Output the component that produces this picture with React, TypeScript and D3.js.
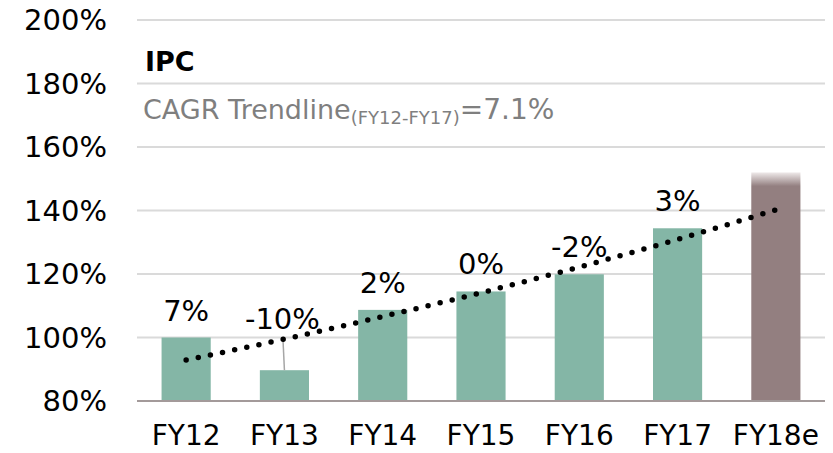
import React, { useEffect, useRef } from "react";
import * as d3 from "d3";

const categories = ["FY12", "FY13", "FY14", "FY15", "FY16", "FY17", "FY18e"];
const indexValues = [100, 89.7, 108.7, 114.5, 119.9, 134.4, 152];
const growthLabels = ["7%", "-10%", "2%", "0%", "-2%", "3%", ""];
const trendValues = [92.9, 99.5, 106.6, 114.1, 122.2, 130.9, 140.2];
const yTicks = [80, 100, 120, 140, 160, 180, 200];

function App() {
  const ref = useRef<SVGSVGElement | null>(null);
  const width = 833;
  const height = 453;
  const marginLeft = 137;
  const marginRight = 8;
  const marginTop = 20;
  const marginBottom = 52;

  useEffect(() => {
    const x = d3
      .scaleBand()
      .domain(categories)
      .range([marginLeft, width - marginRight])
      .paddingInner(0.5)
      .paddingOuter(0.25);

    const y = d3
      .scaleLinear()
      .domain([80, 200])
      .range([height - marginBottom, marginTop]);

    const svg = d3.select(ref.current);
    svg.selectAll("*").remove();
    svg
      .attr("width", width)
      .attr("height", height)
      .attr("viewBox", [0, 0, width, height])
      .attr("style", "position:absolute;left:0;top:0;font-family:'DejaVu Sans', sans-serif;");

    const defs = svg.append("defs");
    const grad = defs
      .append("linearGradient")
      .attr("id", "fadeTop")
      .attr("x1", 0)
      .attr("x2", 0)
      .attr("y1", 0)
      .attr("y2", 1);
    grad.append("stop").attr("offset", 0).attr("stop-color", "#efeaea");
    grad.append("stop").attr("offset", 0.06).attr("stop-color", "#937f80");
    grad.append("stop").attr("offset", 1).attr("stop-color", "#937f80");

    // gridlines
    svg
      .append("g")
      .selectAll("line")
      .data(yTicks.filter((t) => t > 80))
      .join("line")
      .attr("x1", marginLeft)
      .attr("x2", width - marginRight)
      .attr("y1", (d) => y(d))
      .attr("y2", (d) => y(d))
      .attr("stroke", "#dadada")
      .attr("stroke-width", 2);

    // y labels
    svg
      .append("g")
      .selectAll("text")
      .data(yTicks)
      .join("text")
      .attr("x", 107)
      .attr("y", (d) => y(d))
      .attr("dy", "0.36em")
      .attr("text-anchor", "end")
      .attr("font-size", 29)
      .attr("fill", "#000")
      .text((d) => `${d}%`);

    // bars
    svg
      .append("g")
      .selectAll("rect")
      .data(indexValues)
      .join("rect")
      .attr("x", (_, i) => x(categories[i]) as number)
      .attr("width", x.bandwidth())
      .attr("y", (d) => y(d))
      .attr("height", (d) => y(80) - y(d))
      .attr("fill", (_, i) => (i === categories.length - 1 ? "url(#fadeTop)" : "#84b6a6"));

    // axis line
    svg
      .append("line")
      .attr("x1", marginLeft)
      .attr("x2", width - marginRight)
      .attr("y1", y(80))
      .attr("y2", y(80))
      .attr("stroke", "#a39a9a")
      .attr("stroke-width", 2);

    // x labels
    svg
      .append("g")
      .selectAll("text")
      .data(categories)
      .join("text")
      .attr("x", (d) => (x(d) as number) + x.bandwidth() / 2)
      .attr("y", 445)
      .attr("text-anchor", "middle")
      .attr("font-size", 28)
      .attr("fill", "#000")
      .text((d) => d);

    // leader line for FY13 label
    const c13 = (x("FY13") as number) + x.bandwidth() / 2;
    svg
      .append("line")
      .attr("x1", c13 - 1.5)
      .attr("y1", y(100) + 1)
      .attr("x2", c13)
      .attr("y2", y(indexValues[1]))
      .attr("stroke", "#a6a6a6")
      .attr("stroke-width", 1.5);

    // trend line (dotted)
    const line = d3
      .line<number>()
      .x((_, i) => (x(categories[i]) as number) + x.bandwidth() / 2)
      .y((d) => y(d))
      .curve(d3.curveMonotoneX);
    svg
      .append("path")
      .attr("d", line(trendValues))
      .attr("fill", "none")
      .attr("stroke", "#000")
      .attr("stroke-width", 5.5)
      .attr("stroke-linecap", "round")
      .attr("stroke-dasharray", "0 12.4");

    // growth labels
    svg
      .append("g")
      .selectAll("text")
      .data(growthLabels)
      .join("text")
      .attr("x", (_, i) => (x(categories[i]) as number) + x.bandwidth() / 2 - (i === 1 ? 2 : 0))
      .attr("y", (_, i) => (i === 1 ? y(indexValues[i]) - 41 : y(indexValues[i]) - 17))
      .attr("text-anchor", "middle")
      .attr("font-size", 29)
      .attr("fill", "#000")
      .text((d) => d);

    // title + annotation
    svg
      .append("text")
      .attr("x", 145)
      .attr("y", 71)
      .attr("font-size", 27)
      .attr("font-weight", "bold")
      .attr("fill", "#000")
      .text("IPC");

    const note = svg
      .append("text")
      .attr("x", 143)
      .attr("y", 119)
      .attr("font-size", 27)
      .attr("fill", "#7f7f7f");
    note.append("tspan").text("CAGR Trendline");
    note.append("tspan").attr("font-size", 18).attr("dy", 5).text("(FY12-FY17)");
    note.append("tspan").attr("dy", -5).attr("font-size", 28).text("=7.1%");
  }, []);

  return <svg ref={ref}></svg>;
}

export default App;
